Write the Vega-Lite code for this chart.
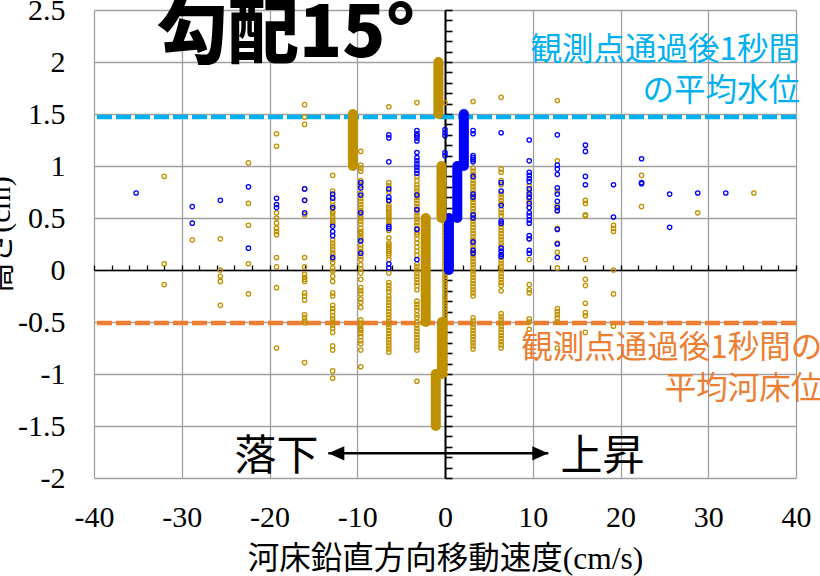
{
  "$schema": "https://vega.github.io/schema/vega-lite/v6.json",
  "width": 702,
  "height": 468,
  "autosize": {"type": "none"},
  "padding": {"left": 94, "top": 10, "right": 24, "bottom": 98},
  "background": "white",
  "config": {"view": {"stroke": null}},
  "resolve": {"axis": {"x": "independent", "y": "independent"}},
  "datasets": {
    "gold": [
      {"v":-32,"h":0.9},{"v":-32,"h":0.06},{"v":-32,"h":-0.14},
      {"v":-28.8,"h":0.29},
      {"v":-25.6,"h":0.3},{"v":-25.6,"h":0},{"v":-25.6,"h":-0.06},{"v":-25.6,"h":-0.11},{"v":-25.6,"h":-0.34},
      {"v":-22.4,"h":1.03},{"v":-22.4,"h":0.64},{"v":-22.4,"h":0.43},{"v":-22.4,"h":0.06},{"v":-22.4,"h":-0.23},
      {"v":-19.2,"h":1.31},{"v":-19.2,"h":1.19},{"v":-19.2,"h":0.55},{"v":-19.2,"h":0.5},{"v":-19.2,"h":0.45},{"v":-19.2,"h":0.4},{"v":-19.2,"h":0.37},{"v":-19.2,"h":0.34},{"v":-19.2,"h":0.12},{"v":-19.2,"h":0.03},{"v":-19.2,"h":-0.17},{"v":-19.2,"h":-0.75},
      {"v":-16,"h":1.59},{"v":-16,"h":1.47},{"v":-16,"h":1.4},{"v":-16,"h":0.78},{"v":-16,"h":0.67},{"v":-16,"h":0.53},{"v":-16,"h":0.12},{"v":-16,"h":0.03},{"v":-16,"h":-0.04},{"v":-16,"h":-0.07},{"v":-16,"h":-0.09},{"v":-16,"h":-0.11},{"v":-16,"h":-0.22},{"v":-16,"h":-0.25},{"v":-16,"h":-0.29},{"v":-16,"h":-0.43},{"v":-16,"h":-0.46},{"v":-16,"h":-0.49},{"v":-16,"h":-0.51},{"v":-16,"h":-0.89},
      {"v":-12.8,"h":0.91},{"v":-12.8,"h":0.76},{"v":-12.8,"h":0.7},{"v":-12.8,"h":0.66},{"v":-12.8,"h":0.62},{"v":-12.8,"h":0.59},{"v":-12.8,"h":0.56},{"v":-12.8,"h":0.54},{"v":-12.8,"h":0.51},{"v":-12.8,"h":0.48},{"v":-12.8,"h":0.46},{"v":-12.8,"h":0.44},{"v":-12.8,"h":0.29},{"v":-12.8,"h":0.26},{"v":-12.8,"h":0.23},{"v":-12.8,"h":0.2},{"v":-12.8,"h":0.17},{"v":-12.8,"h":0.15},{"v":-12.8,"h":0.1},{"v":-12.8,"h":0.07},{"v":-12.8,"h":0.02},{"v":-12.8,"h":-0.01},{"v":-12.8,"h":-0.06},{"v":-12.8,"h":-0.11},{"v":-12.8,"h":-0.22},{"v":-12.8,"h":-0.25},{"v":-12.8,"h":-0.34},{"v":-12.8,"h":-0.37},{"v":-12.8,"h":-0.4},{"v":-12.8,"h":-0.44},{"v":-12.8,"h":-0.47},{"v":-12.8,"h":-0.5},{"v":-12.8,"h":-0.53},{"v":-12.8,"h":-0.56},{"v":-12.8,"h":-0.6},{"v":-12.8,"h":-0.73},{"v":-12.8,"h":-0.77},{"v":-12.8,"h":-0.97},{"v":-12.8,"h":-1.04},
      {"v":-9.6,"h":1.14},{"v":-9.6,"h":1.01},{"v":-9.6,"h":0.98},{"v":-9.6,"h":0.95},{"v":-9.6,"h":0.86},{"v":-9.6,"h":0.81},{"v":-9.6,"h":0.74},{"v":-9.6,"h":0.69},{"v":-9.6,"h":0.66},{"v":-9.6,"h":0.63},{"v":-9.6,"h":0.6},{"v":-9.6,"h":0.57},{"v":-9.6,"h":0.52},{"v":-9.6,"h":0.5},{"v":-9.6,"h":0.47},{"v":-9.6,"h":0.44},{"v":-9.6,"h":0.4},{"v":-9.6,"h":0.37},{"v":-9.6,"h":0.35},{"v":-9.6,"h":0.32},{"v":-9.6,"h":0.3},{"v":-9.6,"h":0.24},{"v":-9.6,"h":0.21},{"v":-9.6,"h":0.18},{"v":-9.6,"h":0.13},{"v":-9.6,"h":0.1},{"v":-9.6,"h":0.05},{"v":-9.6,"h":0.01},{"v":-9.6,"h":-0.03},{"v":-9.6,"h":-0.09},{"v":-9.6,"h":-0.17},{"v":-9.6,"h":-0.2},{"v":-9.6,"h":-0.23},{"v":-9.6,"h":-0.28},{"v":-9.6,"h":-0.31},{"v":-9.6,"h":-0.36},{"v":-9.6,"h":-0.48},{"v":-9.6,"h":-0.51},{"v":-9.6,"h":-0.53},{"v":-9.6,"h":-0.56},{"v":-9.6,"h":-0.58},{"v":-9.6,"h":-0.61},{"v":-9.6,"h":-0.64},{"v":-9.6,"h":-0.68},{"v":-9.6,"h":-0.71},{"v":-9.6,"h":-0.77},{"v":-9.6,"h":-0.93},
      {"v":-6.4,"h":1.57},{"v":-6.4,"h":0.84},{"v":-6.4,"h":0.81},{"v":-6.4,"h":0.75},{"v":-6.4,"h":0.66},{"v":-6.4,"h":0.62},{"v":-6.4,"h":0.6},{"v":-6.4,"h":0.58},{"v":-6.4,"h":0.56},{"v":-6.4,"h":0.54},{"v":-6.4,"h":0.52},{"v":-6.4,"h":0.5},{"v":-6.4,"h":0.48},{"v":-6.4,"h":0.46},{"v":-6.4,"h":0.44},{"v":-6.4,"h":0.38},{"v":-6.4,"h":0.31},{"v":-6.4,"h":0.26},{"v":-6.4,"h":0.24},{"v":-6.4,"h":0.22},{"v":-6.4,"h":0.2},{"v":-6.4,"h":0.18},{"v":-6.4,"h":0.16},{"v":-6.4,"h":0.14},{"v":-6.4,"h":0.1},{"v":-6.4,"h":0.02},{"v":-6.4,"h":-0.03},{"v":-6.4,"h":-0.12},{"v":-6.4,"h":-0.15},{"v":-6.4,"h":-0.18},{"v":-6.4,"h":-0.21},{"v":-6.4,"h":-0.25},{"v":-6.4,"h":-0.28},{"v":-6.4,"h":-0.31},{"v":-6.4,"h":-0.34},{"v":-6.4,"h":-0.37},{"v":-6.4,"h":-0.4},{"v":-6.4,"h":-0.43},{"v":-6.4,"h":-0.46},{"v":-6.4,"h":-0.49},{"v":-6.4,"h":-0.52},{"v":-6.4,"h":-0.55},{"v":-6.4,"h":-0.58},{"v":-6.4,"h":-0.61},{"v":-6.4,"h":-0.64},{"v":-6.4,"h":-0.67},{"v":-6.4,"h":-0.7},{"v":-6.4,"h":-0.73},{"v":-6.4,"h":-0.76},{"v":-6.4,"h":-0.79},
      {"v":-3.2,"h":1.61},{"v":-3.2,"h":0.9},{"v":-3.2,"h":0.86},{"v":-3.2,"h":0.82},{"v":-3.2,"h":0.79},{"v":-3.2,"h":0.76},{"v":-3.2,"h":0.73},{"v":-3.2,"h":0.7},{"v":-3.2,"h":0.67},{"v":-3.2,"h":0.64},{"v":-3.2,"h":0.61},{"v":-3.2,"h":0.58},{"v":-3.2,"h":0.55},{"v":-3.2,"h":0.52},{"v":-3.2,"h":0.49},{"v":-3.2,"h":0.46},{"v":-3.2,"h":0.43},{"v":-3.2,"h":0.4},{"v":-3.2,"h":0.36},{"v":-3.2,"h":0.34},{"v":-3.2,"h":0.3},{"v":-3.2,"h":0.26},{"v":-3.2,"h":0.22},{"v":-3.2,"h":0.18},{"v":-3.2,"h":0.14},{"v":-3.2,"h":0.06},{"v":-3.2,"h":0.03},{"v":-3.2,"h":0},{"v":-3.2,"h":-0.03},{"v":-3.2,"h":-0.06},{"v":-3.2,"h":-0.09},{"v":-3.2,"h":-0.12},{"v":-3.2,"h":-0.15},{"v":-3.2,"h":-0.19},{"v":-3.2,"h":-0.3},{"v":-3.2,"h":-0.33},{"v":-3.2,"h":-0.36},{"v":-3.2,"h":-0.39},{"v":-3.2,"h":-0.43},{"v":-3.2,"h":-0.46},{"v":-3.2,"h":-0.5},{"v":-3.2,"h":-0.53},{"v":-3.2,"h":-0.56},{"v":-3.2,"h":-0.59},{"v":-3.2,"h":-0.62},{"v":-3.2,"h":-0.65},{"v":-3.2,"h":-0.68},{"v":-3.2,"h":-0.71},{"v":-3.2,"h":-0.74},{"v":-3.2,"h":-0.77},{"v":-3.2,"h":-1.07},
      {"v":0,"h":1.61},{"v":0,"h":0.45},{"v":0,"h":0.42},{"v":0,"h":0.39},{"v":0,"h":0.36},{"v":0,"h":0.33},{"v":0,"h":0.3},{"v":0,"h":0.27},{"v":0,"h":0.24},{"v":0,"h":0.21},{"v":0,"h":0.18},{"v":0,"h":0.15},{"v":0,"h":0.12},{"v":0,"h":0.09},{"v":0,"h":0.06},{"v":0,"h":0.03},{"v":0,"h":0},{"v":0,"h":-0.03},{"v":0,"h":-0.06},{"v":0,"h":-0.09},{"v":0,"h":-0.12},{"v":0,"h":-0.15},{"v":0,"h":-0.18},{"v":0,"h":-0.21},{"v":0,"h":-0.24},{"v":0,"h":-0.27},{"v":0,"h":-0.3},{"v":0,"h":-0.33},{"v":0,"h":-0.36},{"v":0,"h":-0.39},{"v":0,"h":-0.42},{"v":0,"h":-0.45},{"v":0,"h":-0.48},{"v":0,"h":-0.51},{"v":0,"h":-0.54},{"v":0,"h":-0.57},{"v":0,"h":-0.6},{"v":0,"h":-0.63},{"v":0,"h":-0.66},{"v":0,"h":-0.69},{"v":0,"h":-0.72},{"v":0,"h":-0.75},{"v":0,"h":-0.78},{"v":0,"h":-0.81},{"v":0,"h":-0.84},{"v":0,"h":-0.87},{"v":0,"h":-0.9},{"v":0,"h":-0.93},{"v":0,"h":-0.96},{"v":0,"h":-1},
      {"v":3.2,"h":1.62},{"v":3.2,"h":0.98},{"v":3.2,"h":0.95},{"v":3.2,"h":0.92},{"v":3.2,"h":0.89},{"v":3.2,"h":0.86},{"v":3.2,"h":0.83},{"v":3.2,"h":0.8},{"v":3.2,"h":0.77},{"v":3.2,"h":0.74},{"v":3.2,"h":0.71},{"v":3.2,"h":0.68},{"v":3.2,"h":0.65},{"v":3.2,"h":0.62},{"v":3.2,"h":0.59},{"v":3.2,"h":0.56},{"v":3.2,"h":0.53},{"v":3.2,"h":0.5},{"v":3.2,"h":0.47},{"v":3.2,"h":0.44},{"v":3.2,"h":0.41},{"v":3.2,"h":0.38},{"v":3.2,"h":0.35},{"v":3.2,"h":0.32},{"v":3.2,"h":0.29},{"v":3.2,"h":0.26},{"v":3.2,"h":0.23},{"v":3.2,"h":0.2},{"v":3.2,"h":0.17},{"v":3.2,"h":0.14},{"v":3.2,"h":0.11},{"v":3.2,"h":0.08},{"v":3.2,"h":0.05},{"v":3.2,"h":0.02},{"v":3.2,"h":-0.01},{"v":3.2,"h":-0.04},{"v":3.2,"h":-0.07},{"v":3.2,"h":-0.1},{"v":3.2,"h":-0.13},{"v":3.2,"h":-0.16},{"v":3.2,"h":-0.19},{"v":3.2,"h":-0.22},{"v":3.2,"h":-0.25},{"v":3.2,"h":-0.46},{"v":3.2,"h":-0.49},{"v":3.2,"h":-0.52},{"v":3.2,"h":-0.55},{"v":3.2,"h":-0.58},{"v":3.2,"h":-0.61},{"v":3.2,"h":-0.64},{"v":3.2,"h":-0.67},{"v":3.2,"h":-0.7},{"v":3.2,"h":-0.73},{"v":3.2,"h":-0.76},
      {"v":6.4,"h":1.66},{"v":6.4,"h":0.97},{"v":6.4,"h":0.94},{"v":6.4,"h":0.86},{"v":6.4,"h":0.82},{"v":6.4,"h":0.73},{"v":6.4,"h":0.7},{"v":6.4,"h":0.67},{"v":6.4,"h":0.64},{"v":6.4,"h":0.58},{"v":6.4,"h":0.55},{"v":6.4,"h":0.52},{"v":6.4,"h":0.44},{"v":6.4,"h":0.41},{"v":6.4,"h":0.38},{"v":6.4,"h":0.35},{"v":6.4,"h":0.32},{"v":6.4,"h":0.29},{"v":6.4,"h":0.26},{"v":6.4,"h":0.23},{"v":6.4,"h":0.12},{"v":6.4,"h":0.09},{"v":6.4,"h":0.06},{"v":6.4,"h":0.03},{"v":6.4,"h":0},{"v":6.4,"h":-0.03},{"v":6.4,"h":-0.06},{"v":6.4,"h":-0.09},{"v":6.4,"h":-0.12},{"v":6.4,"h":-0.15},{"v":6.4,"h":-0.2},{"v":6.4,"h":-0.42},{"v":6.4,"h":-0.45},{"v":6.4,"h":-0.48},{"v":6.4,"h":-0.51},{"v":6.4,"h":-0.54},{"v":6.4,"h":-0.57},{"v":6.4,"h":-0.6},{"v":6.4,"h":-0.63},{"v":6.4,"h":-0.66},{"v":6.4,"h":-0.69},{"v":6.4,"h":-0.72},{"v":6.4,"h":-0.75},
      {"v":9.6,"h":0.81},{"v":9.6,"h":0.75},{"v":9.6,"h":0.69},{"v":9.6,"h":0.66},{"v":9.6,"h":0.6},{"v":9.6,"h":0.3},{"v":9.6,"h":0.1},{"v":9.6,"h":-0.14},{"v":9.6,"h":-0.19},{"v":9.6,"h":-0.22},{"v":9.6,"h":-0.47},{"v":9.6,"h":-0.5},{"v":9.6,"h":-0.57},
      {"v":12.8,"h":1.63},{"v":12.8,"h":1.05},{"v":12.8,"h":0.76},{"v":12.8,"h":0.62},{"v":12.8,"h":0.57},{"v":12.8,"h":0.4},{"v":12.8,"h":0.26},{"v":12.8,"h":0.17},{"v":12.8,"h":0.02},{"v":12.8,"h":-0.37},{"v":12.8,"h":-0.4},{"v":12.8,"h":-0.43},{"v":12.8,"h":-0.46},{"v":12.8,"h":-0.5},{"v":12.8,"h":-0.75},
      {"v":16,"h":0.67},{"v":16,"h":0.64},{"v":16,"h":0.53},{"v":16,"h":0.52},{"v":16,"h":0.1},{"v":16,"h":-0.09},{"v":16,"h":-0.15},{"v":16,"h":-0.32},{"v":16,"h":-0.41},{"v":16,"h":-0.44},{"v":16,"h":-0.6},
      {"v":19.2,"h":0.43},{"v":19.2,"h":0.4},{"v":19.2,"h":0.37},{"v":19.2,"h":0},{"v":19.2,"h":-0.23},{"v":19.2,"h":-0.54},
      {"v":22.4,"h":0.91},{"v":22.4,"h":0.61},
      {"v":28.8,"h":0.55},
      {"v":35.2,"h":0.74}
    ],
    "blue": [
      {"v":-35.2,"h":0.74},
      {"v":-28.8,"h":0.61},{"v":-28.8,"h":0.45},
      {"v":-25.6,"h":0.67},
      {"v":-22.4,"h":0.8},{"v":-22.4,"h":0.21},
      {"v":-19.2,"h":0.69},{"v":-19.2,"h":0.63},{"v":-19.2,"h":0.6},
      {"v":-16,"h":0.78},{"v":-16,"h":0.67},{"v":-16,"h":0.55},
      {"v":-12.8,"h":0.73},{"v":-12.8,"h":0.69},{"v":-12.8,"h":0.6},{"v":-12.8,"h":0.42},{"v":-12.8,"h":0.37},{"v":-12.8,"h":0.33},{"v":-12.8,"h":0.12},
      {"v":-9.6,"h":0.84},{"v":-9.6,"h":0.79},{"v":-9.6,"h":0.72},{"v":-9.6,"h":0.55},{"v":-9.6,"h":0.28},{"v":-9.6,"h":0.16},
      {"v":-6.4,"h":1.3},{"v":-6.4,"h":1.27},{"v":-6.4,"h":1.04},{"v":-6.4,"h":0.78},{"v":-6.4,"h":0.7},{"v":-6.4,"h":0.67},{"v":-6.4,"h":0.42},{"v":-6.4,"h":0.4},{"v":-6.4,"h":0.06},{"v":-6.4,"h":0.02},
      {"v":-3.2,"h":1.34},{"v":-3.2,"h":1.31},{"v":-3.2,"h":1.29},{"v":-3.2,"h":1.27},{"v":-3.2,"h":1.24},{"v":-3.2,"h":1.13},{"v":-3.2,"h":1.08},{"v":-3.2,"h":1.05},{"v":-3.2,"h":1.02},{"v":-3.2,"h":0.99},{"v":-3.2,"h":0.96},{"v":-3.2,"h":0.93},{"v":-3.2,"h":0.72},{"v":-3.2,"h":0.58},{"v":-3.2,"h":0.39},{"v":-3.2,"h":0.1},
      {"v":0,"h":1.35},{"v":0,"h":1.32},{"v":0,"h":1.29},{"v":0,"h":1.13},{"v":0,"h":1.1},
      {"v":3.2,"h":1.34},{"v":3.2,"h":1.31},{"v":3.2,"h":1.1},{"v":3.2,"h":1.08},{"v":3.2,"h":1.06},{"v":3.2,"h":1.04},{"v":3.2,"h":0.9},{"v":3.2,"h":0.73},{"v":3.2,"h":0.7},{"v":3.2,"h":0.53},{"v":3.2,"h":0.5},{"v":3.2,"h":0.27},{"v":3.2,"h":0.19},{"v":3.2,"h":0.16},
      {"v":6.4,"h":1.32},{"v":6.4,"h":0.84},{"v":6.4,"h":0.76},{"v":6.4,"h":0.62},{"v":6.4,"h":0.47},{"v":6.4,"h":0.45},{"v":6.4,"h":0.21},{"v":6.4,"h":0.18},{"v":6.4,"h":0.15},{"v":6.4,"h":0.13},
      {"v":9.6,"h":1.25},{"v":9.6,"h":1.05},{"v":9.6,"h":0.94},{"v":9.6,"h":0.91},{"v":9.6,"h":0.88},{"v":9.6,"h":0.85},{"v":9.6,"h":0.78},{"v":9.6,"h":0.73},{"v":9.6,"h":0.7},{"v":9.6,"h":0.64},{"v":9.6,"h":0.6},{"v":9.6,"h":0.55},{"v":9.6,"h":0.52},{"v":9.6,"h":0.48},{"v":9.6,"h":0.45},{"v":9.6,"h":0.33},{"v":9.6,"h":0.3},{"v":9.6,"h":0.19},{"v":9.6,"h":0.16},
      {"v":12.8,"h":1.3},{"v":12.8,"h":1.01},{"v":12.8,"h":0.97},{"v":12.8,"h":0.92},{"v":12.8,"h":0.79},{"v":12.8,"h":0.73},{"v":12.8,"h":0.66},{"v":12.8,"h":0.6},{"v":12.8,"h":0.57},{"v":12.8,"h":0.39},{"v":12.8,"h":0.25},{"v":12.8,"h":0.12},
      {"v":16,"h":1.2},{"v":16,"h":1.14},{"v":16,"h":0.9},{"v":16,"h":0.82},
      {"v":19.2,"h":0.82},{"v":19.2,"h":0.51},
      {"v":22.4,"h":1.07},{"v":22.4,"h":0.84},{"v":22.4,"h":0.83},
      {"v":25.6,"h":0.73},{"v":25.6,"h":0.41},
      {"v":28.8,"h":0.74},
      {"v":32,"h":0.74}
    ],
    "goldBars": [
      {"v":-10.5,"lo":1.0,"hi":1.5},
      {"v":-0.75,"lo":1.5,"hi":2.0},
      {"v":-0.4,"lo":0.5,"hi":1.0},
      {"v":-2.2,"lo":0.0,"hi":0.5},
      {"v":-2.2,"lo":-0.5,"hi":0.0},
      {"v":-0.35,"lo":-1.0,"hi":-0.5},
      {"v":-1.05,"lo":-1.5,"hi":-1.0}
    ],
    "blueBars": [
      {"v":2.15,"lo":1.0,"hi":1.5},
      {"v":1.4,"lo":0.5,"hi":1.0},
      {"v":0.45,"lo":0.0,"hi":0.5}
    ]
  },
  "layer": [
    {
      "data": {"values": [{"level": 1.471}]},
      "mark": {"type": "rule", "color": "#00B0F0", "strokeWidth": 4.5, "strokeDash": [15, 4]},
      "encoding": {"y": {"field": "level", "type": "quantitative", "axis": null}}
    },
    {
      "data": {"values": [{"level": -0.51}]},
      "mark": {"type": "rule", "color": "#ED7D31", "strokeWidth": 4.5, "strokeDash": [15, 4]},
      "encoding": {"y": {"field": "level", "type": "quantitative", "axis": null}}
    },
    {
      "data": {"name": "gold"},
      "mark": {"type": "point", "shape": "circle", "filled": false, "color": "#BF9000", "size": 19, "strokeWidth": 1.3, "opacity": 1},
      "encoding": {
        "x": {
          "field": "v", "type": "quantitative",
          "scale": {"domain": [-40, 40], "nice": false, "zero": false},
          "axis": {
            "orient": "bottom", "values": [-40, -30, -20, -10, 0, 10, 20, 30, 40],
            "domain": false, "ticks": false, "grid": true, "gridColor": "#A0A0A0", "gridWidth": 1.3, "gridOpacity": 1,
            "labelFont": "Liberation Serif", "labelFontSize": 30, "labelColor": "#000000", "labelPadding": 24,
            "labelFlush": false, "labelOverlap": false, "labelExpr": "'' + datum.value",
            "title": "河床鉛直方向移動速度(cm/s)", "titleFont": "Liberation Serif, Noto Sans CJK JP", "titleFontSize": 31.5,
            "titleFontWeight": "normal", "titleColor": "#000000", "titleX": 351, "titleY": 90, "titleAlign": "center", "titleBaseline": "alphabetic"
          }
        },
        "y": {
          "field": "h", "type": "quantitative",
          "scale": {"domain": [-2, 2.5], "nice": false, "zero": false},
          "axis": {
            "orient": "left", "values": [-2, -1.5, -1, -0.5, 0, 0.5, 1, 1.5, 2, 2.5],
            "domain": false, "ticks": false, "grid": true, "gridColor": "#A0A0A0", "gridWidth": 1.3, "gridOpacity": 1,
            "labelFont": "Liberation Serif", "labelFontSize": 30, "labelColor": "#000000", "labelPadding": 29,
            "labelFlush": false, "labelOverlap": false, "labelExpr": "'' + datum.value",
            "title": "高さ(cm)", "titleFont": "Liberation Serif, Noto Sans CJK JP", "titleFontSize": 30,
            "titleFontWeight": "normal", "titleColor": "#000000", "titleAngle": -90, "titleX": -85, "titleY": 224,
            "titleAlign": "center", "titleBaseline": "alphabetic"
          }
        }
      }
    },
    {
      "data": {"name": "blue"},
      "mark": {"type": "point", "shape": "circle", "filled": false, "color": "#0000FF", "size": 19, "strokeWidth": 1.3, "opacity": 1},
      "encoding": {
        "x": {"field": "v", "type": "quantitative", "axis": null},
        "y": {"field": "h", "type": "quantitative", "axis": null}
      }
    },
    {
      "data": {"name": "blueBars"},
      "mark": {"type": "rule", "color": "#0000FF", "strokeWidth": 10, "strokeCap": "round"},
      "encoding": {
        "x": {"field": "v", "type": "quantitative", "axis": null},
        "y": {"field": "lo", "type": "quantitative", "axis": null},
        "y2": {"field": "hi"}
      }
    },
    {
      "data": {"name": "goldBars"},
      "mark": {"type": "rule", "color": "#BF9000", "strokeWidth": 10, "strokeCap": "round"},
      "encoding": {
        "x": {"field": "v", "type": "quantitative", "axis": null},
        "y": {"field": "lo", "type": "quantitative", "axis": null},
        "y2": {"field": "hi"}
      }
    },
    {
      "data": {"values": [{"from": -13.3, "to": 11.77, "y": -1.763}]},
      "mark": {"type": "rule", "color": "#000000", "strokeWidth": 2.5},
      "encoding": {
        "x": {
          "field": "from", "type": "quantitative",
          "axis": {
            "orient": "bottom", "offset": -208,
            "values": [-40,-38,-36,-34,-32,-30,-28,-26,-24,-22,-20,-18,-16,-14,-12,-10,-8,-6,-4,-2,0,2,4,6,8,10,12,14,16,18,20,22,24,26,28,30,32,34,36,38,40],
            "domain": true, "domainColor": "#000000", "domainWidth": 1.6,
            "ticks": true, "tickColor": "#000000", "tickSize": -5, "tickWidth": 1.3,
            "labels": false, "grid": false, "title": null
          }
        },
        "x2": {"field": "to"},
        "y": {
          "field": "y", "type": "quantitative",
          "axis": {
            "orient": "left", "offset": -351,
            "values": [-2,-1.9,-1.8,-1.7,-1.6,-1.5,-1.4,-1.3,-1.2,-1.1,-1,-0.9,-0.8,-0.7,-0.6,-0.5,-0.4,-0.3,-0.2,-0.1,0,0.1,0.2,0.3,0.4,0.5,0.6,0.7,0.8,0.9,1,1.1,1.2,1.3,1.4,1.5,1.6,1.7,1.8,1.9,2,2.1,2.2,2.3,2.4,2.5],
            "domain": true, "domainColor": "#000000", "domainWidth": 2,
            "ticks": true, "tickColor": "#000000", "tickSize": -7, "tickWidth": 1.6,
            "labels": false, "grid": false, "title": null
          }
        }
      }
    },
    {
      "data": {"values": [{"tip": -13.3, "y": -1.763}]},
      "mark": {"type": "point", "shape": "M0,0L2,-0.9L2,0.9Z", "filled": true, "color": "#000000", "size": 256, "opacity": 1, "strokeWidth": 0},
      "encoding": {
        "x": {"field": "tip", "type": "quantitative", "axis": null},
        "y": {"field": "y", "type": "quantitative", "axis": null}
      }
    },
    {
      "data": {"values": [{"tip": 11.77, "y": -1.763}]},
      "mark": {"type": "point", "shape": "M0,0L-2,-0.9L-2,0.9Z", "filled": true, "color": "#000000", "size": 256, "opacity": 1, "strokeWidth": 0},
      "encoding": {
        "x": {"field": "tip", "type": "quantitative", "axis": null},
        "y": {"field": "y", "type": "quantitative", "axis": null}
      }
    },
    {
      "data": {"values": [{"label": "勾配15°", "x": -18.1, "y": 2.045}]},
      "mark": {"type": "text", "font": "Noto Sans CJK JP", "fontWeight": 900, "fontSize": 71, "color": "#000000", "align": "center", "baseline": "alphabetic"},
      "encoding": {
        "x": {"field": "x", "type": "quantitative", "axis": null},
        "y": {"field": "y", "type": "quantitative", "axis": null},
        "text": {"field": "label"}
      }
    },
    {
      "data": {"values": [{"label": "観測点通過後1秒間", "x": 40.46, "y": 2.02}, {"label": "の平均水位", "x": 40.46, "y": 1.625}]},
      "mark": {"type": "text", "font": "Noto Sans CJK JP", "fontSize": 31.5, "color": "#00B0F0", "align": "right", "baseline": "alphabetic"},
      "encoding": {
        "x": {"field": "x", "type": "quantitative", "axis": null},
        "y": {"field": "y", "type": "quantitative", "axis": null},
        "text": {"field": "label"}
      }
    },
    {
      "data": {"values": [{"label": "観測点通過後1秒間の", "x": 43.0, "y": -0.846}, {"label": "平均河床位", "x": 43.0, "y": -1.24}]},
      "mark": {"type": "text", "font": "Noto Sans CJK JP", "fontSize": 31.5, "color": "#ED7D31", "align": "right", "baseline": "alphabetic"},
      "encoding": {
        "x": {"field": "x", "type": "quantitative", "axis": null},
        "y": {"field": "y", "type": "quantitative", "axis": null},
        "text": {"field": "label"}
      }
    },
    {
      "data": {"values": [{"label": "落下", "x": -19.2, "y": -1.923}, {"label": "上昇", "x": 17.95, "y": -1.923}]},
      "mark": {"type": "text", "font": "Noto Sans CJK JP", "fontSize": 42, "color": "#000000", "align": "center", "baseline": "alphabetic"},
      "encoding": {
        "x": {"field": "x", "type": "quantitative", "axis": null},
        "y": {"field": "y", "type": "quantitative", "axis": null},
        "text": {"field": "label"}
      }
    }
  ]
}
